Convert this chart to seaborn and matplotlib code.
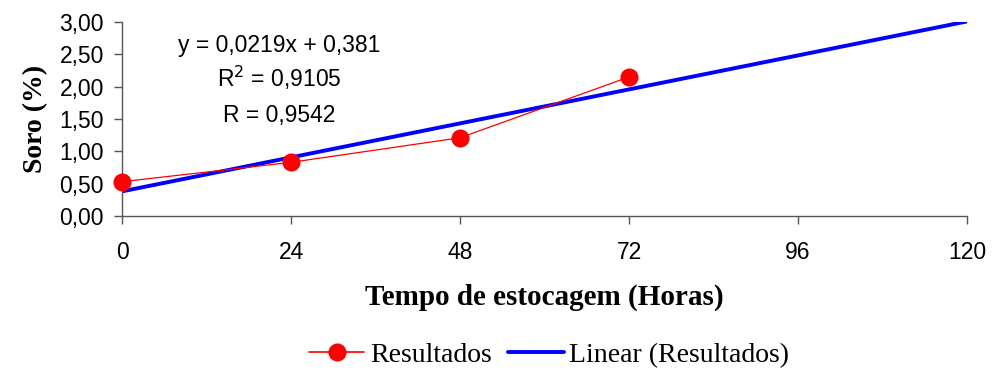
import numpy as np
import pandas as pd
import matplotlib
matplotlib.use("Agg")
import matplotlib.pyplot as plt
import seaborn as sns
from matplotlib.lines import Line2D

# Storage time (hours) and whey released (%)
horas = [0, 24, 48, 72]
soro = [0.53, 0.83, 1.21, 2.15]

# Linear trend fitted to the results
inclinacao = 0.0219
intercepto = 0.381
r2 = 0.9105
r = 0.9542

x_ticks = [0, 24, 48, 72, 96, 120]
y_ticks = [0.0, 0.5, 1.0, 1.5, 2.0, 2.5, 3.0]

sns.set_theme(style="white")
plt.rcParams["font.family"] = ["Liberation Sans", "DejaVu Sans"]
plt.rcParams["text.color"] = "black"
plt.rcParams["axes.labelcolor"] = "black"

fig = plt.figure(figsize=(9.93, 3.73), dpi=100)
ax = fig.add_axes([0.1229, 0.4209, 0.8509, 0.5201])

df = pd.DataFrame({"Tempo": horas, "Soro": soro})
x_lin = np.array([0, 120])
df_lin = pd.DataFrame({"Tempo": x_lin, "Soro": intercepto + inclinacao * x_lin})

sns.lineplot(data=df_lin, x="Tempo", y="Soro", ax=ax, color="#0000FF",
             linewidth=2.8, zorder=2)
sns.lineplot(data=df, x="Tempo", y="Soro", ax=ax, color="#FF0000",
             linewidth=0.9, marker="o", markersize=13, markeredgewidth=0,
             zorder=3, clip_on=False)

ax.set_xlim(0, 120)
ax.set_ylim(0, 3.0)
ax.set_xticks(x_ticks)
ax.set_xticklabels([str(v) for v in x_ticks])
ax.set_yticks(y_ticks)
ax.set_yticklabels([f"{v:.2f}".replace(".", ",") for v in y_ticks])

for s in ["top", "right"]:
    ax.spines[s].set_visible(False)
for s in ["left", "bottom"]:
    ax.spines[s].set_color("#555555")
    ax.spines[s].set_linewidth(1.0)

ax.tick_params(axis="both", which="major", bottom=True, left=True,
               direction="out", length=6, width=1.0, color="#555555",
               labelsize=16.5, labelcolor="black")
ax.tick_params(axis="x", pad=12)
ax.tick_params(axis="y", pad=7)

ax.set_xlabel("Tempo de estocagem (Horas)", fontfamily="Liberation Serif",
              fontweight="bold", fontsize=21, labelpad=14, color="black")
ax.set_ylabel("Soro (%)", fontfamily="Liberation Serif",
              fontweight="bold", fontsize=20, labelpad=8, color="black")

fmt = lambda v, n: f"{v:.{n}f}".replace(".", ",")
ax.text(0.186, 0.845, f"y = {fmt(inclinacao, 4)}x + {fmt(intercepto, 3)}",
        transform=ax.transAxes, ha="center", va="baseline", fontsize=16.5)
ax.text(0.186, 0.665, f"R$^2$ = {fmt(r2, 4)}",
        transform=ax.transAxes, ha="center", va="baseline", fontsize=16.5)
ax.text(0.186, 0.485, f"R = {fmt(r, 4)}",
        transform=ax.transAxes, ha="center", va="baseline", fontsize=16.5)

handles = [
    Line2D([0], [0], color="#FF0000", linewidth=1.2, marker="o",
           markersize=13, markeredgewidth=0),
    Line2D([0], [0], color="#0000FF", linewidth=2.8),
]
fig.legend(handles, ["Resultados", "Linear (Resultados)"], loc="center",
           bbox_to_anchor=(0.553, 0.048), ncol=2, frameon=False,
           prop={"family": "Liberation Serif", "size": 20},
           handlelength=2.0, handletextpad=0.2, columnspacing=0.6)

fig.savefig("out.png", dpi=100)
